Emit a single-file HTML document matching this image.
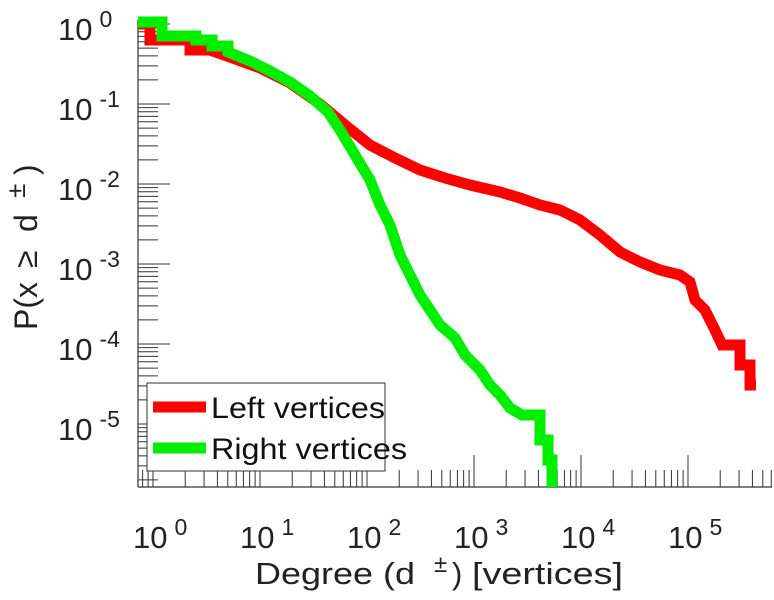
<!DOCTYPE html>
<html><head><style>
html,body{margin:0;padding:0;background:#fff;}
svg{display:block;font-family:"Liberation Sans","DejaVu Sans",sans-serif;}
</style></head><body>
<svg id="s" width="774" height="600" xmlns="http://www.w3.org/2000/svg">
<rect width="774" height="600" fill="#fff"/>
<g id="ticks" stroke="#333" stroke-width="1"></g>
<line x1="138" y1="20" x2="138" y2="487" stroke="#333" stroke-width="1.2"/>
<line x1="138" y1="487" x2="772" y2="487" stroke="#333" stroke-width="1.2"/>
<polyline fill="none" stroke="#f00" stroke-width="11" stroke-linejoin="miter" points="138,24 150,24 150,40 190,40 190,50 210,50 230,57 260,68 290,83 320,104 345,125 370,145 395,158 420,170 445,178 470,185 500,192 520,198 540,205 560,210 580,220 600,235 620,252 640,262 660,270 680,275 690,282 695,300 705,310 715,330 722,345 740,345 740,365 750,365 750,385 756,385"/>
<polyline fill="none" stroke="#0e0" stroke-width="11" stroke-linejoin="miter" points="138,22 162,22 162,36 196,36 196,40 212,40 212,46 228,46 228,52 250,61 270,71 290,82 310,96 328,112 340,130 355,155 370,180 380,205 390,225 400,255 410,275 420,295 430,310 440,325 455,338 465,355 480,370 490,385 500,395 510,408 522,415 540,415 540,440 548,440 548,460 552,460 552,487"/>
<rect x="147" y="383" width="238" height="88" fill="#fff" stroke="#333" stroke-width="1"/>
<line x1="153" y1="407" x2="206" y2="407" stroke="#f00" stroke-width="11"/>
<line x1="153" y1="448" x2="206" y2="448" stroke="#0e0" stroke-width="11"/>
<text x="211" y="418" font-size="30" fill="#111" textLength="174" lengthAdjust="spacingAndGlyphs">Left vertices</text>
<text x="211" y="459" font-size="30" fill="#111" textLength="196" lengthAdjust="spacingAndGlyphs">Right vertices</text>
<g font-size="31" fill="#222" id="labels"></g>
<g font-size="31" fill="#222">
<text x="255" y="584" textLength="160" lengthAdjust="spacingAndGlyphs">Degree (d</text>
<text x="434" y="572" font-size="24">±</text>
<text x="452" y="584">)</text>
<text x="472" y="584" textLength="151" lengthAdjust="spacingAndGlyphs">[vertices]</text>
</g>
<g transform="translate(37,330) rotate(-90)" font-size="32" fill="#222">
<text x="0" y="0">P(x</text>
<text x="62" y="0">≥</text>
<text x="98" y="0">d</text>
<text x="132" y="-12" font-size="26">±</text>
<text x="155" y="0">)</text>
</g>
</svg>
<script>
var t=document.getElementById('ticks'),L=document.getElementById('labels'),ns="http://www.w3.org/2000/svg";
function ln(a,b,c,d){var e=document.createElementNS(ns,'line');e.setAttribute('x1',a);e.setAttribute('y1',b);e.setAttribute('x2',c);e.setAttribute('y2',d);t.appendChild(e);}
function tx(x,y,s,sup){var e=document.createElementNS(ns,'text');e.setAttribute('x',x);e.setAttribute('y',y);e.innerHTML=s+'<tspan dy="-13" font-size="23" dx="7">'+sup+'</tspan>';L.appendChild(e);}
for(var p=0;p>=-6;p--){for(var m=1;m<10;m++){var y=24-80*(p+Math.log10(m));if(y<20||y>487)continue;ln(138,y,m==1?170:158,y);}}
for(var p=-1;p<=6;p++){for(var m=1;m<10;m++){var x=153+107*(p+Math.log10(m));if(x<138||x>772)continue;ln(x,487,x,m==1?455:470);}}
var yl=[["10","0",40],["10","-1",120],["10","-2",200],["10","-3",280],["10","-4",360],["10","-5",440]];
yl.forEach(function(a){tx(58,a[2],a[0],a[1]);});
for(var i=0;i<6;i++){tx(133+107*i,548,"10",""+i);}
</script>
</body></html>
